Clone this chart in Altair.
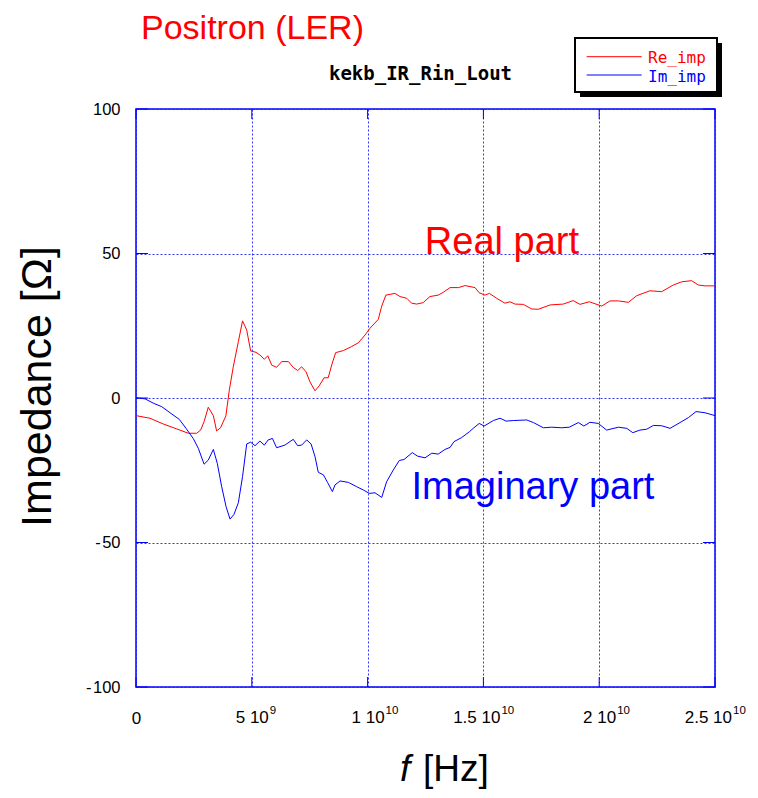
import altair as alt
import pandas as pd

# ---- data (frequency in GHz, impedance in Ohm) ----
f_re = [0.0, 0.60, 1.18, 1.76, 2.26, 2.62, 2.79, 2.94, 3.12, 3.34, 3.48, 3.65, 3.88, 4.03, 4.20,
        4.42, 4.60, 4.78, 4.95, 5.18, 5.35, 5.54, 5.69, 5.86, 6.07, 6.29, 6.58, 6.79, 6.98, 7.15,
        7.34, 7.51, 7.73, 7.91, 8.12, 8.30, 8.45, 8.62, 8.95, 9.31, 9.60, 9.89, 10.10, 10.46, 10.61,
        10.79, 11.18, 11.40, 11.69, 11.90, 12.12, 12.40, 12.69, 13.05, 13.27, 13.56, 13.92, 14.21,
        14.64, 14.82, 15.07, 15.26, 15.57, 15.93, 16.15, 16.36, 16.72, 17.09, 17.37, 17.88, 18.45,
        18.88, 19.17, 19.57, 20.11, 20.47, 20.83, 21.26, 21.62, 22.19, 22.70, 23.20, 23.56, 23.99,
        24.28, 24.57, 25.0]
re_imp = [-6.1, -7.0, -9.0, -10.7, -12.2, -12.2, -11.1, -8.2, -3.2, -6.1, -11.4, -10.3, -6.2, 2.8, 10.8,
          19.5, 26.7, 23.5, 16.3, 15.8, 14.9, 13.4, 14.6, 11.4, 10.6, 12.6, 12.6, 10.6, 9.5, 10.8,
          9.1, 5.6, 2.5, 4.2, 7.0, 7.0, 11.4, 15.7, 16.4, 17.8, 19.1, 21.8, 24.1, 27.2, 31.8,
          35.6, 36.2, 35.1, 34.5, 32.8, 32.5, 33.0, 35.1, 35.6, 36.6, 38.2, 38.2, 38.9,
          38.2, 36.4, 35.6, 36.2, 34.5, 32.8, 33.3, 32.5, 32.4, 30.8, 30.7, 32.2, 32.5,
          33.7, 32.4, 33.3, 31.8, 33.6, 33.6, 33.1, 35.4, 37.1, 36.8, 39.1, 40.2, 40.6,
          39.1, 38.8, 38.8]

f_im = [0.0, 0.39, 0.75, 1.11, 1.47, 1.87, 2.16, 2.47, 2.69, 2.94, 3.12, 3.34, 3.51, 3.70, 3.89,
        4.06, 4.23, 4.42, 4.60, 4.78, 4.95, 5.14, 5.35, 5.54, 5.71, 5.89, 6.07, 6.43, 6.79, 6.98,
        7.15, 7.37, 7.56, 7.73, 7.87, 8.09, 8.27, 8.48, 8.59, 8.81, 9.17, 9.53, 9.81, 10.07, 10.32,
        10.61, 10.82, 11.11, 11.37, 11.57, 11.93, 12.15, 12.48, 12.77, 13.05, 13.34, 13.56, 13.73,
        14.06, 14.39, 14.56, 14.82, 15.03, 15.43, 15.72, 15.98, 16.29, 16.87, 17.16, 17.59, 17.95,
        18.38, 18.71, 19.10, 19.34, 19.60, 19.96, 20.32, 20.83, 21.19, 21.45, 21.76, 22.05, 22.34,
        22.70, 23.06, 23.49, 23.85, 24.18, 24.57, 25.0]
im_imp = [0.1, -0.3, -1.8, -3.0, -5.1, -7.4, -10.5, -14.0, -17.4, -22.9, -21.5, -17.8, -22.6, -30.7, -37.6,
          -41.9, -40.3, -36.2, -27.2, -15.9, -15.3, -16.5, -14.9, -16.3, -14.5, -14.0, -17.2, -16.3, -14.3, -16.5,
          -16.3, -14.5, -15.9, -20.3, -25.7, -26.6, -29.2, -32.4, -30.1, -28.7, -29.2, -30.7, -31.8, -33.0, -32.8,
          -34.4, -29.0, -24.9, -21.6, -21.3, -18.9, -20.1, -20.7, -19.1, -19.4, -17.8, -17.1, -15.1,
          -13.7, -11.7, -10.5, -8.8, -9.7, -7.8, -7.0, -8.0, -7.8, -7.6, -8.5, -10.3, -10.1,
          -10.3, -10.1, -8.5, -9.7, -8.4, -8.8, -11.1, -10.1, -10.5, -12.0, -11.1, -10.8, -9.5,
          -9.6, -10.5, -8.5, -6.8, -4.7, -5.1, -6.1]

x_ticks = [0, 5, 10, 15, 20, 25]
x_tick_mant = ["5 10", "1 10", "1.5 10", "2 10", "2.5 10"]   # labels for x_ticks[1:]
x_tick_exp = ["9", "10", "10", "10", "10"]
y_ticks = [-100, -50, 0, 50, 100]

ann_text = ["Real part", "Imaginary part"]
ann_f = [15.8, 17.14]
ann_v = [53.6, -31.1]
ann_color = ["#ff0000", "#0000ff"]

series_names = ["Re_imp", "Im_imp"]
series_colors = ["#ff0000", "#0000ff"]

W, H = 579, 578
SANS = "Liberation Sans"
MONO = "DejaVu Sans Mono"
GRID = "#1f1fff"

df = pd.concat([
    pd.DataFrame({"f": f_re, "v": re_imp, "s": series_names[0]}),
    pd.DataFrame({"f": f_im, "v": im_imp, "s": series_names[1]}),
], ignore_index=True)

xscale = alt.Scale(domain=[0, 25], nice=False, zero=False)
yscale = alt.Scale(domain=[-100, 100], nice=False, zero=False)

xaxis = alt.Axis(values=x_ticks, labelExpr="datum.value == 0 ? '0' : ''", title=None, grid=True,
                 gridColor=GRID, gridDash=[2, 2], gridWidth=1, gridOpacity=0.9,
                 ticks=False, domain=False,
                 labelFont=SANS, labelFontSize=17, labelColor="black", labelPadding=23,
                 labelFlush=False, labelOverlap=False)
yaxis = alt.Axis(values=y_ticks, title="Impedance [Ω]", grid=True,
                 gridColor=GRID, gridDash=[2, 2], gridWidth=1, gridOpacity=0.9,
                 ticks=False, domain=False,
                 labelExpr="datum.value < 0 ? '-\u200a' + abs(datum.value) : '' + datum.value",
                 labelFont=SANS, labelFontSize=16.5, labelColor="black", labelPadding=16,
                 labelFlush=False, labelOverlap=False,
                 titleFont=SANS, titleFontSize=43, titleFontWeight="normal", titleColor="black",
                 titleX=-99, titleY=277, titleAngle=270, titleAlign="center", titleBaseline="middle")

lines = alt.Chart(df).mark_line(strokeWidth=1).encode(
    x=alt.X("f:Q", scale=xscale, axis=xaxis),
    y=alt.Y("v:Q", scale=yscale, axis=yaxis),
    color=alt.Color("s:N", scale=alt.Scale(domain=series_names, range=series_colors), legend=None),
    detail="s:N",
)

# x tick labels with raised exponents
lab_df = pd.DataFrame({"t": x_ticks[1:], "m": x_tick_mant, "e": x_tick_exp})
lab_m = alt.Chart(lab_df).mark_text(font=SANS, fontSize=17, color="black", align="right",
                                    baseline="middle", dx=17).encode(
    x=alt.X("t:Q", scale=xscale), y=alt.value(H + 31), text="m:N")
lab_e = alt.Chart(lab_df).mark_text(font=SANS, fontSize=11.5, color="black", align="left",
                                    baseline="middle", dx=18).encode(
    x=alt.X("t:Q", scale=xscale), y=alt.value(H + 24), text="e:N")

# inward tick marks on all four sides
xt = pd.DataFrame({"t": x_ticks})
yt = pd.DataFrame({"t": y_ticks})
tick_bottom = alt.Chart(xt).mark_rule(color="#0000ff", strokeWidth=1).encode(
    x=alt.X("t:Q", scale=xscale), y=alt.value(H), y2=alt.value(H - 10))
tick_top = alt.Chart(xt).mark_rule(color="#0000ff", strokeWidth=1).encode(
    x=alt.X("t:Q", scale=xscale), y=alt.value(0), y2=alt.value(10))
tick_left = alt.Chart(yt).mark_rule(color="#0000ff", strokeWidth=1).encode(
    y=alt.Y("t:Q", scale=yscale), x=alt.value(0), x2=alt.value(12))
tick_right = alt.Chart(yt).mark_rule(color="#0000ff", strokeWidth=1).encode(
    y=alt.Y("t:Q", scale=yscale), x=alt.value(W), x2=alt.value(W - 12))

ann = alt.Chart(pd.DataFrame({"f": ann_f, "v": ann_v, "t": ann_text, "c": ann_color})).mark_text(
    font=SANS, fontSize=38, align="center", baseline="middle").encode(
    x=alt.X("f:Q", scale=xscale), y=alt.Y("v:Q", scale=yscale), text="t:N",
    color=alt.Color("c:N", scale=None))

one = alt.Data(values=[{}])

def label(text, x, y, **kw):
    return alt.Chart(one).mark_text(text=text, **kw).encode(x=alt.value(x), y=alt.value(y))

title = label("Positron (LER)", 5, -70.5, font=SANS, fontSize=34, color="#ff0000",
              align="left", baseline="alphabetic")
subtitle = label("kekb_IR_Rin_Lout", 284.5, -34.7, font=MONO, fontSize=19, fontWeight="bold",
                 color="black", align="center", baseline="middle")
xt_f = label("f", 264, 672, font=SANS, fontSize=37, fontStyle="italic", color="black",
             align="left", baseline="alphabetic")
xt_hz = label("[Hz]", 287, 672, font=SANS, fontSize=37, color="black",
              align="left", baseline="alphabetic")

# legend box
shadow = alt.Chart(one).mark_rect(fill="black").encode(
    x=alt.value(444), x2=alt.value(586), y=alt.value(-66), y2=alt.value(-12))
box = alt.Chart(one).mark_rect(fill="white", stroke="black", strokeWidth=2).encode(
    x=alt.value(439), x2=alt.value(581), y=alt.value(-71), y2=alt.value(-17))
leg_re = alt.Chart(one).mark_rule(color=series_colors[0], strokeWidth=1).encode(
    x=alt.value(450.7), x2=alt.value(505.7), y=alt.value(-52.3))
leg_im = alt.Chart(one).mark_rule(color=series_colors[1], strokeWidth=1).encode(
    x=alt.value(450.7), x2=alt.value(505.7), y=alt.value(-34))
leg_re_t = label(series_names[0], 512, -50.7, font=MONO, fontSize=16, color=series_colors[0],
                 align="left", baseline="middle")
leg_im_t = label(series_names[1], 512, -32.3, font=MONO, fontSize=16, color=series_colors[1],
                 align="left", baseline="middle")

chart = alt.layer(
    lines, tick_bottom, tick_top, tick_left, tick_right, lab_m, lab_e, ann,
    title, subtitle, xt_f, xt_hz, shadow, box, leg_re, leg_im, leg_re_t, leg_im_t,
).properties(
    width=W, height=H,
    padding={"left": 128, "top": 101, "right": 35, "bottom": 103},
    autosize=alt.AutoSizeParams(type="none"),
    background="white",
).configure_view(stroke="#0000ff", strokeWidth=1.5)

chart.save("out.html", embed_options={"renderer": "svg", "actions": False})
